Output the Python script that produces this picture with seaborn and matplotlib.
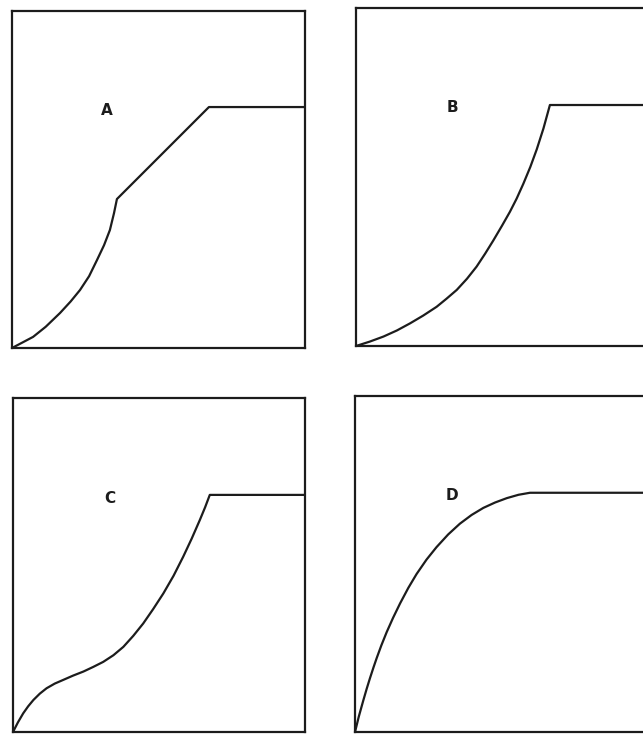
import matplotlib
matplotlib.use('Agg')
import matplotlib.pyplot as plt
import seaborn as sns

# Curvas (x e y em % da largura/altura de cada painel)
x_a = [0, 3.5, 7.2, 11.5, 16.4, 20.0, 23.2, 26.3, 29.0, 31.4, 33.4, 34.8, 35.8, 67.2, 100]
y_a = [0, 1.6, 3.3, 6.3, 10.4, 13.8, 17.2, 21.3, 26.1, 30.5, 35.0, 40.0, 44.2, 71.5, 71.5]

x_b = [0, 4.7, 9.4, 14.0, 18.5, 23.0, 27.6, 31.0, 34.5, 38.0, 41.3, 44.2, 47.0,
       50.0, 52.7, 55.0, 57.3, 59.7, 61.9, 64.2, 66.4, 100]
y_b = [0, 1.3, 2.8, 4.6, 6.7, 9.0, 11.6, 14.0, 16.6, 19.9, 23.5, 27.3, 31.2,
       35.6, 39.7, 43.6, 48.0, 53.0, 58.2, 64.4, 71.3, 71.3]

x_c = [0, 1.7, 3.5, 5.2, 7.0, 9.2, 11.5, 14.3, 17.2, 20.6, 24.1, 27.5, 30.9, 34.4,
       37.8, 41.2, 44.6, 48.0, 51.5, 55.0, 58.3, 61.2, 64.0, 65.8, 67.4, 100]
y_c = [0, 2.9, 5.6, 7.7, 9.6, 11.5, 13.1, 14.5, 15.6, 16.9, 18.1, 19.5, 21.0, 23.0,
       25.5, 28.8, 32.5, 36.8, 41.5, 46.8, 52.5, 57.9, 63.5, 67.3, 71.0, 71.0]

x_d = [0, 1.3, 2.8, 4.0, 5.1, 6.3, 7.4, 9.0, 10.8, 13.0, 15.4, 18.2, 21.0, 24.4,
       27.8, 31.8, 35.8, 39.8, 43.8, 47.8, 51.8, 55.8, 59.7, 100]
y_d = [0, 4.6, 9.3, 12.9, 16.0, 19.2, 22.0, 25.8, 29.7, 34.0, 38.3, 42.9, 47.0, 51.3,
       55.0, 58.8, 62.0, 64.6, 66.7, 68.3, 69.6, 70.6, 71.2, 71.2]

rotulos = ['A', 'B', 'C', 'D']
rotulo_pos = [(32.4, 70.6), (32.9, 70.7), (33.2, 70.0), (33.1, 70.5)]

sns.set_style('white')
plt.rcParams['font.family'] = ['DejaVu Sans']

preto = '#1c1c1c'
fig = plt.figure(figsize=(6.43, 7.34), dpi=100)

# posicoes dos paineis em fracao da figura
caixas = [
    [0.0187, 0.5259, 0.4557, 0.4591],
    [0.5537, 0.5286, 0.4541, 0.4605],
    [0.0202, 0.0027, 0.4541, 0.4550],
    [0.5521, 0.0027, 0.4557, 0.4578],
]
curvas = [(x_a, y_a), (x_b, y_b), (x_c, y_c), (x_d, y_d)]

for caixa, (xs, ys), letra, pos in zip(caixas, curvas, rotulos, rotulo_pos):
    ax = fig.add_axes(caixa)
    sns.lineplot(x=xs, y=ys, ax=ax, color=preto, linewidth=1.6, sort=False)
    ax.set_xlim(0, 100)
    ax.set_ylim(0, 100)
    ax.set_xticks([])
    ax.set_yticks([])
    for s in ax.spines.values():
        s.set_color(preto)
        s.set_linewidth(1.6)
    ax.text(pos[0], pos[1], letra, fontsize=11, color=preto,
            ha='center', va='center', fontweight='bold')

fig.savefig('out.png', dpi=100)
